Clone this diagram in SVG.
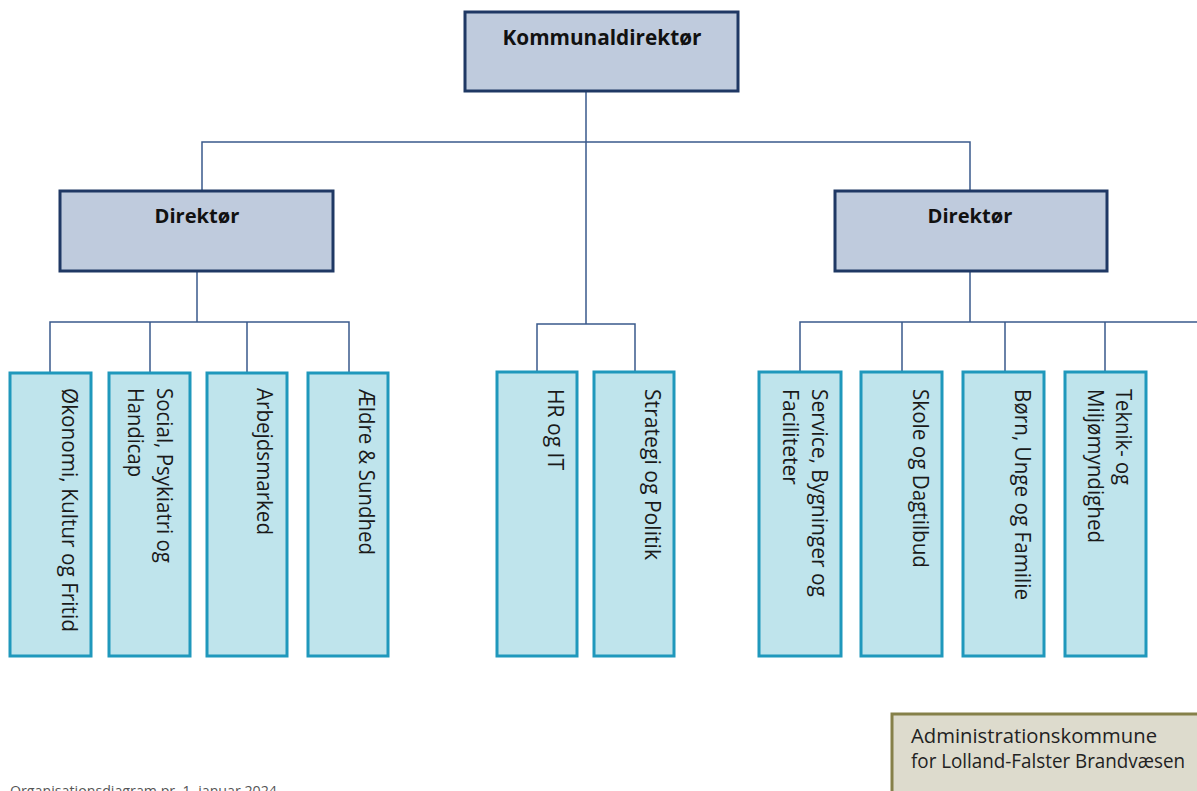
<svg xmlns="http://www.w3.org/2000/svg" width="1197" height="791" viewBox="0 0 1197 791">
<style>
.top{fill:#BFCBDD;stroke:#1F3864;stroke-width:3}
.leaf{fill:#BFE4EC;stroke:#1F98BC;stroke-width:3}
.note{fill:#DDDBCD;stroke:#858049;stroke-width:3}
.conn{fill:none;stroke:#3A5A8C;stroke-width:1.5}
.bt{font-family:"Open Sans","Noto Sans",sans-serif;font-weight:bold;fill:#111}
.lt{font-family:"Open Sans","Noto Sans",sans-serif;font-size:22px;fill:#1a1a1a}
.nt{font-family:"Open Sans","Noto Sans",sans-serif;font-size:20px;fill:#222}
</style>
<rect width="1197" height="791" fill="#ffffff"/>
<g id="connectors">
<path class="conn" d="M586 91V324M202 191V142H970V191"/>
<path class="conn" d="M197 271V322M50 373V322H349V373M150 322V373M247 322V373"/>
<path class="conn" d="M537 372V324H635V372"/>
<path class="conn" d="M970 271V322M800 373V322H1197M902 322V373M1005 322V373M1105 322V373"/>
</g>
<g id="kommunaldirektor">
<rect class="top" x="465" y="12" width="273" height="79"/>
<text class="bt" x="602" y="45" font-size="22" text-anchor="middle" textLength="199" lengthAdjust="spacingAndGlyphs">Kommunaldirektør</text>
</g>
<g id="direktor-left">
<rect class="top" x="60" y="191" width="273" height="80"/>
<text class="bt" x="197" y="223" font-size="20" text-anchor="middle" textLength="85" lengthAdjust="spacingAndGlyphs">Direktør</text>
</g>
<g id="direktor-right">
<rect class="top" x="835" y="191" width="272" height="80"/>
<text class="bt" x="970" y="223" font-size="20" text-anchor="middle" textLength="85" lengthAdjust="spacingAndGlyphs">Direktør</text>
</g>
<g id="okonomi">
<rect class="leaf" x="10" y="373" width="81" height="283"/>
<text class="lt" transform="translate(62 388) rotate(90)" textLength="244" lengthAdjust="spacingAndGlyphs">Økonomi, Kultur og Fritid</text>
</g>
<g id="social">
<rect class="leaf" x="109" y="373" width="81" height="283"/>
<text class="lt" transform="translate(157 388) rotate(90)" textLength="175" lengthAdjust="spacingAndGlyphs">Social, Psykiatri og</text>
<text class="lt" transform="translate(128 388) rotate(90)" textLength="89" lengthAdjust="spacingAndGlyphs">Handicap</text>
</g>
<g id="arbejdsmarked">
<rect class="leaf" x="207" y="373" width="80" height="283"/>
<text class="lt" transform="translate(257 388) rotate(90)" textLength="147" lengthAdjust="spacingAndGlyphs">Arbejdsmarked</text>
</g>
<g id="aeldre">
<rect class="leaf" x="308" y="373" width="80" height="283"/>
<text class="lt" transform="translate(359 389) rotate(90)" textLength="166" lengthAdjust="spacingAndGlyphs">Ældre &amp; Sundhed</text>
</g>
<g id="hr">
<rect class="leaf" x="497" y="372" width="80" height="284"/>
<text class="lt" transform="translate(548 389) rotate(90)" textLength="81" lengthAdjust="spacingAndGlyphs">HR og IT</text>
</g>
<g id="strategi">
<rect class="leaf" x="594" y="372" width="80" height="284"/>
<text class="lt" transform="translate(645 389) rotate(90)" textLength="171" lengthAdjust="spacingAndGlyphs">Strategi og Politik</text>
</g>
<g id="service">
<rect class="leaf" x="759" y="372" width="82" height="284"/>
<text class="lt" transform="translate(812 389) rotate(90)" textLength="208" lengthAdjust="spacingAndGlyphs">Service, Bygninger og</text>
<text class="lt" transform="translate(783 389) rotate(90)" textLength="96" lengthAdjust="spacingAndGlyphs">Faciliteter</text>
</g>
<g id="skole">
<rect class="leaf" x="861" y="372" width="81" height="284"/>
<text class="lt" transform="translate(913 389) rotate(90)" textLength="179" lengthAdjust="spacingAndGlyphs">Skole og Dagtilbud</text>
</g>
<g id="born">
<rect class="leaf" x="963" y="372" width="81" height="284"/>
<text class="lt" transform="translate(1015 389) rotate(90)" textLength="211" lengthAdjust="spacingAndGlyphs">Børn, Unge og Familie</text>
</g>
<g id="teknik">
<rect class="leaf" x="1065" y="372" width="81" height="284"/>
<text class="lt" transform="translate(1116 389) rotate(90)" textLength="96" lengthAdjust="spacingAndGlyphs">Teknik- og</text>
<text class="lt" transform="translate(1088 389) rotate(90)" textLength="154" lengthAdjust="spacingAndGlyphs">Miljømyndighed</text>
</g>
<g id="administrationskommune">
<rect class="note" x="892" y="714" width="320" height="100"/>
<text class="nt" x="911" y="743" textLength="246" lengthAdjust="spacingAndGlyphs">Administrationskommune</text>
<text class="nt" x="911" y="768" textLength="274" lengthAdjust="spacingAndGlyphs">for Lolland-Falster Brandvæsen</text>
</g>
<g id="footer">
<text x="10" y="796" font-family="Open Sans, sans-serif" font-size="14" fill="#555" textLength="267" lengthAdjust="spacingAndGlyphs">Organisationsdiagram pr. 1. januar 2024</text>
</g>
</svg>
